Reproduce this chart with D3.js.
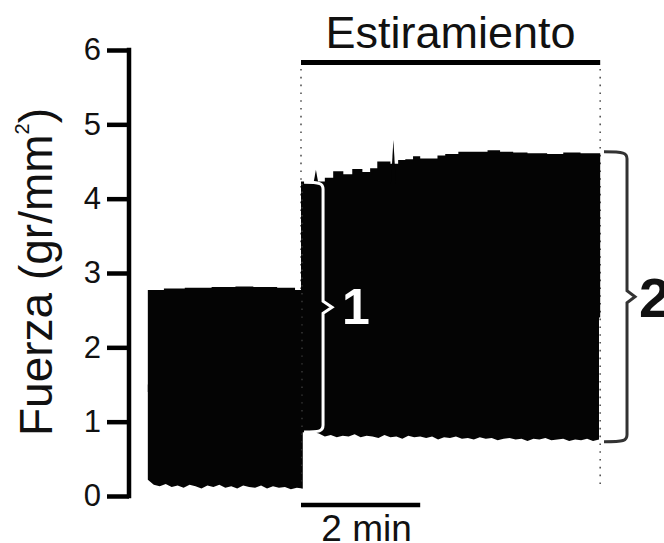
<!DOCTYPE html>
<html>
<head>
<meta charset="utf-8">
<script src="https://cdn.jsdelivr.net/npm/d3@7"></script>
<style>
  html, body { margin: 0; padding: 0; background: #fff; }
  svg { display: block; }
  text { font-family: "Liberation Sans", Arial, Helvetica, sans-serif; }
</style>
</head>
<body>
<svg id="chart" width="664" height="543"></svg>
<script>
// ---------------- data (force in gr/mm², time in minutes; 0 = start of stretch) ----------------
const yTicks = [0, 1, 2, 3, 4, 5, 6];
const yLabel = "Fuerza (gr/mm";
const yLabelSup = "2";

// Pre-stretch recording: upper envelope (step changes) and lower envelope (sampled every 0.1 min)
const preTopT = [-2.57, -2.30, -1.95, -1.50, -1.10, -0.80, -0.40, -0.10, 0.03];
const preTopV = [2.77, 2.79, 2.80, 2.81, 2.82, 2.81, 2.80, 2.77, 2.77];
const preBotStart = -2.57;
const preBotV = [0.22, 0.15, 0.13, 0.16, 0.12, 0.14, 0.11, 0.15, 0.13, 0.10,
                 0.14, 0.12, 0.15, 0.11, 0.13, 0.10, 0.14, 0.12, 0.11, 0.14,
                 0.10, 0.13, 0.11, 0.12, 0.09, 0.11, 0.10];

// Stretch recording
const strTopT = [0.00, 0.40, 0.54, 0.71, 0.86, 1.03, 1.16, 1.28, 1.50, 1.63, 1.75, 1.88,
                 2.00, 2.29, 2.42, 2.64, 3.13, 3.34, 3.56, 3.80, 4.13, 4.40, 4.69, 5.02];
const strTopV = [4.23, 4.28, 4.37, 4.33, 4.40, 4.36, 4.41, 4.50, 4.47, 4.52, 4.53, 4.57,
                 4.54, 4.58, 4.60, 4.63, 4.65, 4.63, 4.62, 4.61, 4.60, 4.62, 4.61, 4.61];
const strBotStart = 0.0;
const strBotV = [0.86, 0.85, 0.86, 0.84, 0.80, 0.82, 0.79, 0.81, 0.80, 0.83,
                 0.79, 0.81, 0.80, 0.78, 0.82, 0.79, 0.80, 0.77, 0.81, 0.79,
                 0.80, 0.78, 0.80, 0.76, 0.79, 0.78, 0.80, 0.77, 0.78, 0.76,
                 0.79, 0.77, 0.78, 0.75, 0.77, 0.78, 0.76, 0.77, 0.74, 0.77,
                 0.76, 0.78, 0.75, 0.76, 0.77, 0.74, 0.76, 0.75, 0.77, 0.74, 0.76];
const sampleStep = 0.1;

// Brief transient peaks on the upper envelope
const spikeT = [0.25, 1.55];
const spikeV = [4.39, 4.79];

// Stretch period and annotations
const stretchStart = 0, stretchEnd = 5.02;
const stretchLabel = "Estiramiento";
const scaleBarMin = 2;
const scaleBarLabel = "2 min";
const braces = [
  { label: "1", t: 0.37, top: 4.22, bottom: 0.86 },
  { label: "2", t: 5.47, top: 4.63, bottom: 0.73 }
];

// ---------------- drawing ----------------
const svg = d3.select("#chart");
const x = d3.scaleLinear().domain([0, 5]).range([301, 599]);
const y = d3.scaleLinear().domain([0, 6]).range([496, 50]);

// Dotted guide lines marking stretch period
const dotted = svg.append("g");
[stretchStart, stretchEnd].forEach(t => {
  dotted.append("line")
    .attr("x1", x(t)).attr("x2", x(t))
    .attr("y1", 69).attr("y2", y(0.08))
    .attr("stroke", "#555").attr("stroke-width", 1.6)
    .attr("stroke-dasharray", "1.6,6.2");
});

// Traces: upper part (stepped envelope) and lower part (jagged envelope)
const stepArea = (mid) => d3.area()
  .x(d => x(d[0])).y0(y(mid)).y1(d => y(d[1]))
  .curve(d3.curveStepAfter);
const jagArea = (mid) => d3.area()
  .x(d => x(d[0])).y0(d => y(d[1])).y1(y(mid))
  .curve(d3.curveLinear);

const traces = svg.append("g").attr("fill", "#040404");
function drawTrace(topT, topV, botStart, botV, mid) {
  const topData = topT.map((t, i) => [t, topV[i]]);
  const botData = botV.map((v, i) => [botStart + i * sampleStep, v]);
  traces.append("path").attr("d", stepArea(mid)(topData));
  traces.append("path").attr("d", jagArea(mid + 0.1)(botData));
}
drawTrace(preTopT, preTopV, preBotStart, preBotV, 1.4);
drawTrace(strTopT, strTopV, strBotStart, strBotV, 2.4);

// spikes
spikeT.forEach((t, i) => {
  traces.append("path").attr("d",
    `M${x(t) - 2.5},${y(4.2)} L${x(t)},${y(spikeV[i])} L${x(t) + 2.5},${y(4.2)} Z`);
});

// dotted line over the trace (visible as grey dots inside black)
[stretchStart].forEach(t => {
  svg.append("line")
    .attr("x1", x(t) + 1).attr("x2", x(t) + 1)
    .attr("y1", y(4.2)).attr("y2", y(0.1))
    .attr("stroke", "#444").attr("stroke-width", 1.2)
    .attr("stroke-dasharray", "1.4,6.4");
});

// Y axis
const yAxis = d3.axisLeft(y).tickValues(yTicks).tickFormat(d3.format("d"))
  .tickSize(22).tickSizeOuter(0).tickPadding(6);
const ax = svg.append("g").attr("transform", "translate(129,0)").call(yAxis);
ax.select(".domain").attr("stroke", "#000").attr("stroke-width", 4.5)
  .attr("d", `M0,${y(6) - 2.2}V${y(0) + 2.2}`);
ax.selectAll(".tick line").attr("stroke", "#000").attr("stroke-width", 4.5);
ax.selectAll(".tick text").attr("font-size", 31).attr("fill", "#111")
  .attr("font-family", "'Liberation Sans', Arial, sans-serif");

// Y axis title
const yt = svg.append("text")
  .attr("transform", "translate(52,272) rotate(-90)")
  .attr("text-anchor", "middle").attr("font-size", 46).attr("fill", "#111");
yt.append("tspan").text(yLabel);
yt.append("tspan").attr("font-size", 20).attr("dy", -23).text(yLabelSup);
yt.append("tspan").attr("dy", 23).text(")");

// Stretch bar and label
svg.append("line").attr("x1", x(stretchStart)).attr("x2", x(stretchEnd))
  .attr("y1", 62.5).attr("y2", 62.5).attr("stroke", "#000").attr("stroke-width", 5);
svg.append("text").attr("x", x((stretchStart + stretchEnd) / 2)).attr("y", 48)
  .attr("text-anchor", "middle").attr("font-size", 45).attr("fill", "#111")
  .text(stretchLabel);

// Time scale bar
svg.append("line").attr("x1", x(0)).attr("x2", x(scaleBarMin))
  .attr("y1", 505).attr("y2", 505).attr("stroke", "#000").attr("stroke-width", 4.5);
svg.append("text").attr("x", x(scaleBarMin / 2) + 6).attr("y", 541)
  .attr("text-anchor", "middle").attr("font-size", 37).attr("fill", "#111")
  .text(scaleBarLabel);

// Braces
function bracePath(xb, yT, yB, hook, tip) {
  const ym = (yT + yB) / 2, r = 7;
  return `M${xb - hook},${yT} C${xb - 3},${yT} ${xb},${yT + 1} ${xb},${yT + r}` +
         ` L${xb},${ym - 6} L${xb + tip},${ym} L${xb},${ym + 6} L${xb},${yB - r}` +
         ` C${xb},${yB - 1} ${xb - 3},${yB} ${xb - hook},${yB}`;
}
const b1 = braces[0], b2 = braces[1];
svg.append("path").attr("d", bracePath(x(b1.t), y(b1.top), y(b1.bottom), 19, 9))
  .attr("fill", "none").attr("stroke", "#fff").attr("stroke-width", 3)
  .attr("stroke-linejoin", "miter");
svg.append("text").attr("x", x(b1.t) + 19).attr("y", (y(b1.top) + y(b1.bottom)) / 2 + 17)
  .attr("font-size", 50).attr("font-weight", "bold").attr("fill", "#fff").text(b1.label);

svg.append("path").attr("d", bracePath(x(b2.t), y(b2.top), y(b2.bottom), 23, 8))
  .attr("fill", "none").attr("stroke", "#333").attr("stroke-width", 3)
  .attr("stroke-linejoin", "miter");
svg.append("text").attr("x", x(b2.t) + 12).attr("y", (y(b2.top) + y(b2.bottom)) / 2 + 20)
  .attr("font-size", 56).attr("font-weight", "bold").attr("fill", "#111").text(b2.label);
</script>
</body>
</html>
